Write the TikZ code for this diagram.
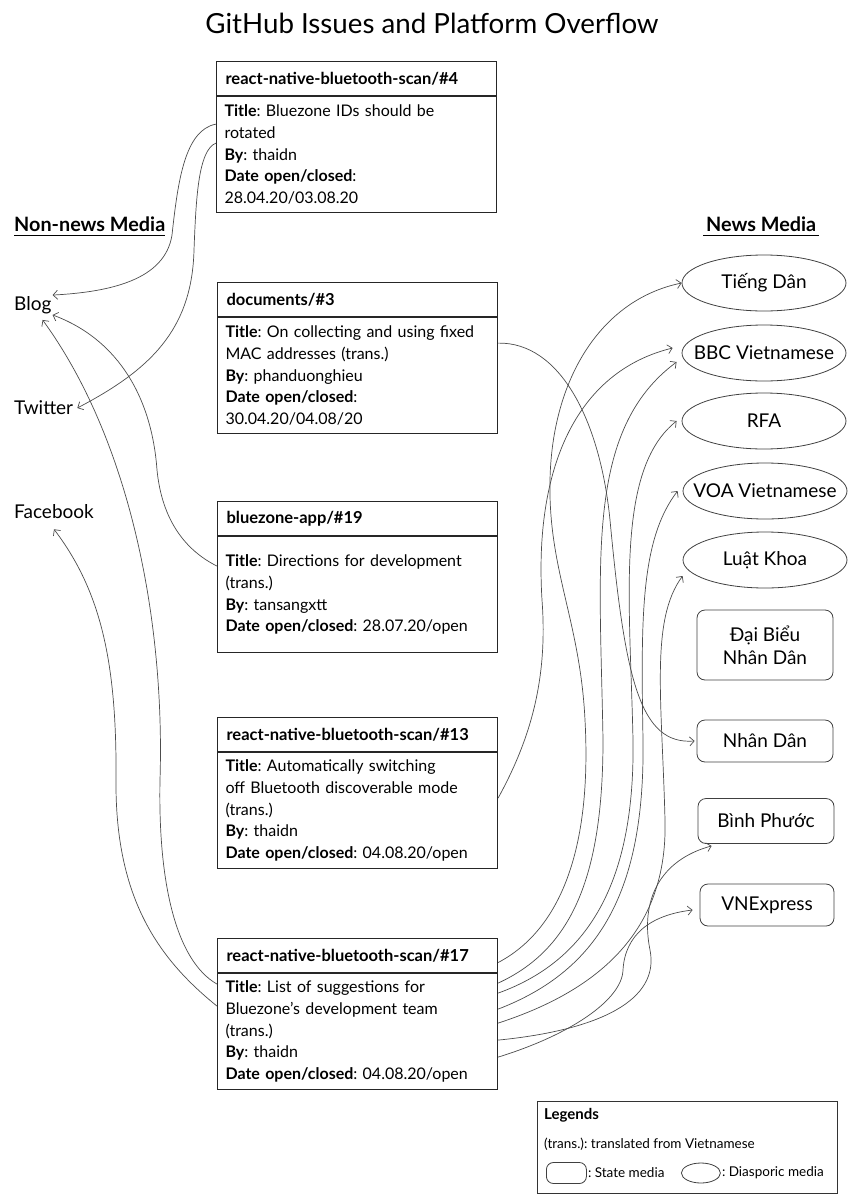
\documentclass[tikz,border=0pt]{standalone}
\usepackage{fontspec}
\setmainfont{Lato}
\frenchspacing
\usetikzlibrary{arrows.meta,positioning,shapes.geometric}
\begin{document}
\begin{tikzpicture}[x=1pt,y=-1pt,>={Straight Barb[length=4.5pt,width=9pt]}]
\tikzstyle{hd}=[draw=black!85,line width=1.1pt,text width=262pt,inner xsep=9pt,minimum height=34pt,align=left,font=\fontsize{16.5}{19}\selectfont\bfseries]
\tikzstyle{bd}=[draw=black!85,line width=1.1pt,text width=264pt,inner xsep=8pt,minimum height=116pt,align=left,font=\fontsize{16}{21.7}\selectfont]
\tikzstyle{dia}=[ellipse,draw=black!75,line width=0.8pt,minimum width=164pt,minimum height=56pt,inner sep=-16pt,font=\fontsize{19}{22}\selectfont]
\tikzstyle{st}=[rectangle,rounded corners=8pt,draw=black!75,line width=0.8pt,minimum width=136pt,minimum height=43pt,align=center,font=\fontsize{19}{23}\selectfont]
\tikzstyle{med}=[inner sep=1pt,anchor=west,font=\fontsize{19}{22}\selectfont]
\tikzstyle{grp}=[inner xsep=0pt,inner ysep=4pt,anchor=west,font=\fontsize{19.8}{22}\selectfont\bfseries]
\tikzstyle{lnk}=[->,draw=black!70,line width=0.7pt]
\tikzstyle{lg}=[anchor=west,inner xsep=1pt,font=\fontsize{13.5}{15}\selectfont]
\useasboundingbox (0,0) rectangle (847,1194);
\node[font=\fontsize{27.7}{32}\selectfont] (title) at (432,23) {GitHub Issues and Platform Overflow};
% issues
\node[hd,anchor=north west] (h4) at (216,61) {react-native-bluetooth-scan/\#4};
\node[bd,below=0pt of h4] (b4) {\textbf{Title}: Bluezone IDs should be\\rotated\\\textbf{By}: thaidn\\\textbf{Date open/closed}:\\28.04.20/03.08.20};
\node[hd,anchor=north west] (hdoc) at (217,282) {documents/\#3};
\node[bd,below=0pt of hdoc] (bdoc) {\textbf{Title}: On collecting and using fixed\\MAC addresses (trans.)\\\textbf{By}: phanduonghieu\\\textbf{Date open/closed}:\\30.04.20/04.08/20};
\node[hd,anchor=north west] (h19) at (217,501) {bluezone-app/\#19};
\node[bd,below=0pt of h19] (b19) {\textbf{Title}: Directions for development\\(trans.)\\\textbf{By}: tansangxtt\\\textbf{Date open/closed}: 28.07.20/open};
\node[hd,anchor=north west] (h13) at (217,717) {react-native-bluetooth-scan/\#13};
\node[bd,below=0pt of h13] (b13) {\textbf{Title}: Automatically switching\\off Bluetooth discoverable mode\\(trans.)\\\textbf{By}: thaidn\\\textbf{Date open/closed}: 04.08.20/open};
\node[hd,anchor=north west] (h17) at (217,938) {react-native-bluetooth-scan/\#17};
\node[bd,below=0pt of h17] (b17) {\textbf{Title}: List of suggestions for\\Bluezone’s development team\\(trans.)\\\textbf{By}: thaidn\\\textbf{Date open/closed}: 04.08.20/open};
% media
\node[grp] (nnm) at (14,224) {Non-news Media};
\draw[line width=1.2pt] (nnm.south west) -- (nnm.south east);
\node[grp,inner xsep=3pt] (nm) at (703,224) {News Media};
\draw[line width=1.2pt] (nm.south west) -- (nm.south east);
\node[med] (blog) at (13,305) {Blog};
\node[med] (twitter) at (13,408) {Twitter};
\node[med] (fb) at (13,512) {Facebook};
\node[dia] (tieng) at (764,283) {Tiếng Dân};
\node[dia] (bbc) at (764,353) {BBC Vietnamese};
\node[dia] (rfa) at (764,421) {RFA};
\node[dia] (voa) at (765,491) {VOA Vietnamese};
\node[dia] (luat) at (765,560) {Luật Khoa};
\node[st,minimum height=70pt] (dbnd) at (765,645) {Đại Biểu\\Nhân Dân};
\node[st,minimum height=42pt] (nhan) at (765,741) {Nhân Dân};
\node[st,minimum height=45pt] (binh) at (766,821) {Bình Phước};
\node[st,minimum height=42pt,minimum width=134pt] (vne) at (767,905) {VNExpress};
% links to non-news media
\draw[lnk] ([yshift=-28pt]b4.north west) .. controls (185,130) and (178,180) .. (172,235) .. controls (165,280) and (110,292) .. (blog.north east);
\draw[lnk] ([yshift=-47pt]b4.north west) .. controls (198,150) and (196,200) .. (194,250) .. controls (192,330) and (150,370) .. ([xshift=3pt]twitter.east);
\draw[lnk] ([yshift=-30pt]b19.north west) .. controls (185,550) and (162,520) .. (157,470) .. controls (152,400) and (120,340) .. (blog.south east);
\draw[lnk] ([yshift=-11pt]b17.north west) .. controls (175,960) and (158,880) .. (160,780) .. controls (165,620) and (130,440) .. ([xshift=-10pt,yshift=-5pt]blog.south east);
\draw[lnk] ([yshift=-33pt]b17.north west) .. controls (160,960) and (115,900) .. (116,780) .. controls (117,660) and (100,590) .. ([yshift=-9pt]fb.south);
% links to news media
\draw[lnk] ([yshift=-26pt]bdoc.north east) .. controls (560,342) and (600,420) .. (610,520) .. controls (625,680) and (640,745) .. ([xshift=-2pt]nhan.west);
\draw[lnk] ([yshift=-46pt]b13.north east) .. controls (530,740) and (548,680) .. (542,600) .. controls (534,470) and (575,372) .. ([xshift=-9pt,yshift=5pt]bbc.west);
\draw[lnk] ([yshift=-7pt]h17.east) .. controls (560,930) and (592,850) .. (585,720) .. controls (580,620) and (548,570) .. (550,480) .. controls (552,380) and (600,300) .. (tieng.west);
\draw[lnk] ([yshift=-10pt]b17.north east) .. controls (570,950) and (603,880) .. (603,740) .. controls (600,560) and (585,430) .. ([xshift=-5pt,yshift=-9pt]bbc.west);
\draw[lnk] ([yshift=-20pt]b17.north east) .. controls (590,960) and (635,880) .. (633,740) .. controls (630,600) and (615,470) .. ([xshift=-5pt]rfa.west);
\draw[lnk] ([yshift=-36pt]b17.north east) .. controls (600,970) and (645,890) .. (643,740) .. controls (641,620) and (640,540) .. ([xshift=-5pt]voa.west);
\draw[lnk] ([yshift=-50pt]b17.north east) .. controls (600,990) and (668,930) .. (665,820) .. controls (662,700) and (650,620) .. ([yshift=-16pt]luat.west);
\draw[lnk] ([yshift=-67pt]b17.north east) .. controls (600,1030) and (660,1000) .. (650,950) .. controls (640,900) and (660,860) .. ([xshift=14pt,yshift=-2pt]binh.south west);
\draw[lnk] ([yshift=-84pt]b17.north east) .. controls (570,1035) and (622,1000) .. (623,970) .. controls (625,935) and (650,915) .. ([xshift=-7pt,yshift=-5pt]vne.west);
% legend
\node[draw=black!80,line width=0.8pt,minimum width=300pt,minimum height=92pt,anchor=north west] (leg) at (537,1101) {};
\node[lg,font=\fontsize{15}{17}\selectfont\bfseries] (legt) at (543,1115) {Legends};
\node[lg] (legtr) at (543,1144) {(trans.): translated from Vietnamese};
\node[st,minimum width=40pt,minimum height=21pt,rounded corners=7pt,anchor=west] (legst) at (546,1173) {};
\node[lg] (legstt) at (legst.east) {: State media};
\node[dia,minimum width=39pt,minimum height=20pt,anchor=west] (legdi) at (681,1173) {};
\node[lg] (legdit) at (legdi.east) {: Diasporic media};
\end{tikzpicture}
\end{document}
